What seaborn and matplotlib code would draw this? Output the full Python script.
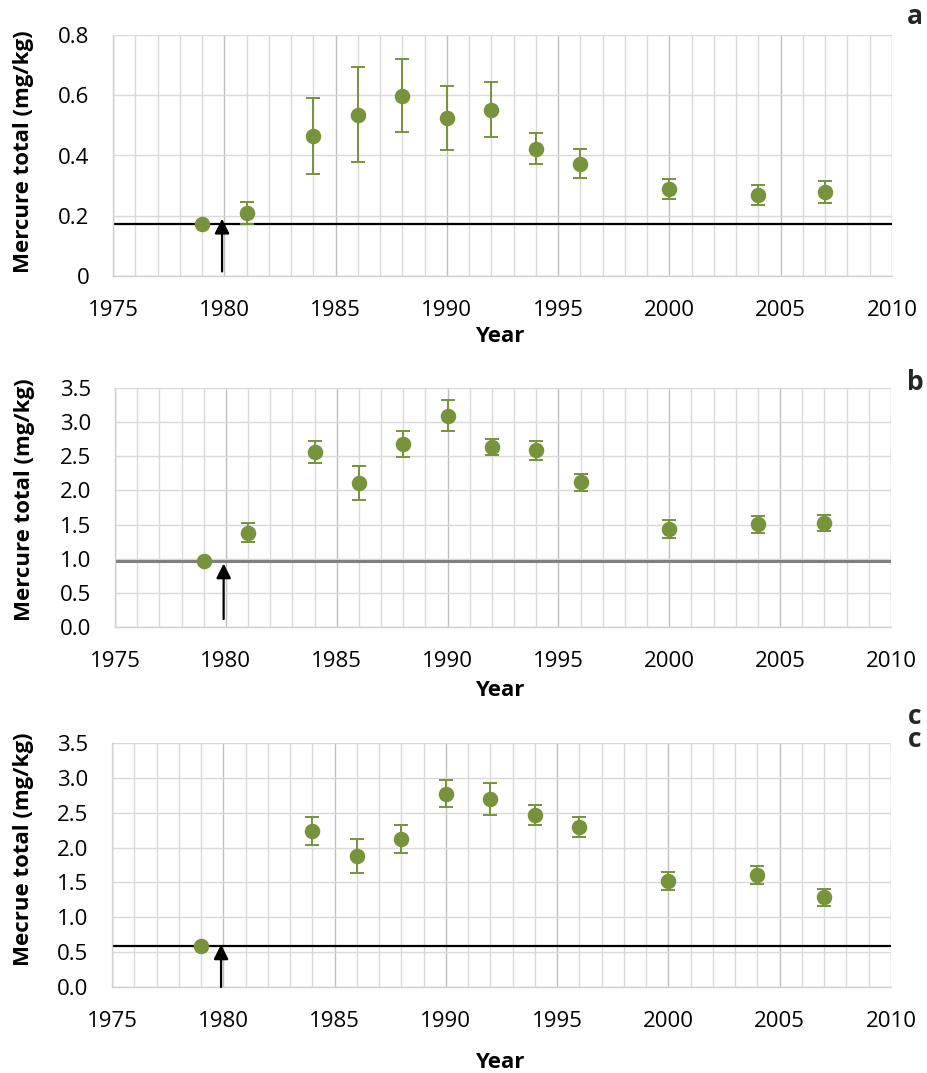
import numpy as np
import pandas as pd
import matplotlib
matplotlib.use("Agg")
import matplotlib.pyplot as plt
import seaborn as sns
from matplotlib.ticker import MultipleLocator, FormatStrFormatter, FuncFormatter

# ---------------- data ----------------
years_a = [1979, 1981, 1984, 1986, 1988, 1990, 1992, 1994, 1996, 2000, 2004, 2007]
hg_a = [0.174, 0.210, 0.465, 0.536, 0.599, 0.524, 0.552, 0.423, 0.373, 0.290, 0.269, 0.279]
err_a = [0.0, 0.037, 0.126, 0.157, 0.121, 0.106, 0.092, 0.052, 0.049, 0.033, 0.033, 0.037]
base_a = 0.174

years_b = [1979, 1981, 1984, 1986, 1988, 1990, 1992, 1994, 1996, 2000, 2004, 2007]
hg_b = [0.964, 1.383, 2.566, 2.113, 2.678, 3.096, 2.639, 2.585, 2.118, 1.436, 1.504, 1.519]
err_b = [0.0, 0.136, 0.160, 0.248, 0.190, 0.230, 0.117, 0.134, 0.124, 0.130, 0.124, 0.117]
base_b = 0.964

years_c = [1979, 1984, 1986, 1988, 1990, 1992, 1994, 1996, 2000, 2004, 2007]
hg_c = [0.593, 2.233, 1.879, 2.123, 2.774, 2.697, 2.468, 2.296, 1.526, 1.607, 1.286]
err_c = [0.0, 0.200, 0.237, 0.196, 0.194, 0.225, 0.148, 0.148, 0.130, 0.127, 0.122]
base_c = 0.593

arrow_year = 1980
ylabels = ["Mercure total (mg/kg)", "Mercure total (mg/kg)", "Mecrue total (mg/kg)"]
panel_tags = ["a", "b", "c\nc"]
xlabel = "Year"

# ---------------- style ----------------
sns.set_theme(style="white")
plt.rcParams['font.family'] = ['Open Sans', 'DejaVu Sans']

GREEN = "#77933C"
W, H = 928, 1073
fig = plt.figure(figsize=(W / 100, H / 100), dpi=100)

def box(l, r, t, b):
    return [l / W, 1 - b / H, (r - l) / W, (b - t) / H]

specs = [
    dict(years=years_a, hg=hg_a, err=err_a, base=base_a, ylim=0.8, ystep=0.2,
         fmt=FuncFormatter(lambda v, p: "0" if abs(v) < 1e-9 else f"{v:.1f}"),
         rect=box(113, 892, 35, 276), base_color="black", base_lw=1.6,
         arrow=(0.015, 0.19), ylab_y=151.5, xlab_y=337, tag_y=17),
    dict(years=years_b, hg=hg_b, err=err_b, base=base_b, ylim=3.5, ystep=0.5,
         fmt=FormatStrFormatter("%.1f"),
         rect=box(115, 891, 388, 627), base_color="#808080", base_lw=2.2,
         arrow=(0.117, 0.93), ylab_y=499.5, xlab_y=690, tag_y=383),
    dict(years=years_c, hg=hg_c, err=err_c, base=base_c, ylim=3.5, ystep=0.5,
         fmt=FormatStrFormatter("%.1f"),
         rect=box(112, 891, 743, 987), base_color="black", base_lw=1.6,
         arrow=(0.0, 0.61), ylab_y=849.5, xlab_y=1062, tag_y=728),
]

for i, s in enumerate(specs):
    ax = fig.add_axes(s["rect"])
    df = pd.DataFrame({"year": s["years"], "hg": s["hg"], "err": s["err"]})
    ax.set_xlim(1975, 2010)
    ax.set_ylim(0, s["ylim"])
    ax.xaxis.set_major_locator(MultipleLocator(5))
    ax.xaxis.set_minor_locator(MultipleLocator(1))
    ax.yaxis.set_major_locator(MultipleLocator(s["ystep"]))
    ax.yaxis.set_major_formatter(s["fmt"])
    ax.grid(which="minor", axis="x", color="#d9d9d9", lw=1.0, zorder=0)
    ax.grid(which="major", axis="x", color="#bfbfbf", lw=1.0, zorder=0)
    ax.grid(which="major", axis="y", color="#d9d9d9", lw=1.0, zorder=0)
    ax.set_axisbelow(True)
    for sp in ["top", "right"]:
        ax.spines[sp].set_visible(False)
    for sp in ["left", "bottom"]:
        ax.spines[sp].set_color("#d0d0d0")
        ax.spines[sp].set_linewidth(1.0)
    ax.tick_params(axis="both", which="both", length=0, labelsize=16,
                   colors="black")
    ax.tick_params(axis="x", pad=17)
    ax.tick_params(axis="y", pad=17)

    # baseline
    ax.axhline(s["base"], color=s["base_color"], lw=s["base_lw"], zorder=2)

    # error bars and points
    e = df[df["err"] > 0]
    ax.errorbar(e["year"], e["hg"], yerr=e["err"], fmt="none", ecolor=GREEN,
                elinewidth=1.4, capsize=5, capthick=1.4, zorder=3)
    sns.scatterplot(data=df, x="year", y="hg", ax=ax, color=GREEN, s=125,
                    edgecolor=GREEN, linewidth=0, zorder=4, legend=False)

    # arrow
    y0, y1 = s["arrow"]
    ax.annotate("", xy=(arrow_year - 0.1, y1), xytext=(arrow_year - 0.1, y0),
                arrowprops=dict(arrowstyle="-|>", color="black", lw=1.6,
                                mutation_scale=22, shrinkA=0, shrinkB=0),
                zorder=5)

    # labels
    ax.set_ylabel(ylabels[i], fontsize=16, fontweight="bold", color="black")
    ax.set_xlabel(xlabel, fontsize=16, fontweight="bold", color="black")
    l, b, w, h = s["rect"]
    ax_top_px = (1 - b - h) * H
    ax_h_px = h * H
    ax.yaxis.set_label_coords((24 - l * W) / (w * W), 1 - (s["ylab_y"] - ax_top_px) / ax_h_px)
    ax.yaxis.label.set_va("center")
    ax.xaxis.set_label_coords((500 - l * W) / (w * W), 1 - (s["xlab_y"] - ax_top_px) / ax_h_px)
    ax.xaxis.label.set_va("center")

    fig.text(915 / W, 1 - s["tag_y"] / H, panel_tags[i], fontsize=19,
             fontweight="bold", ha="center", va="center", linespacing=0.85)

fig.savefig("out.png", dpi=100)
